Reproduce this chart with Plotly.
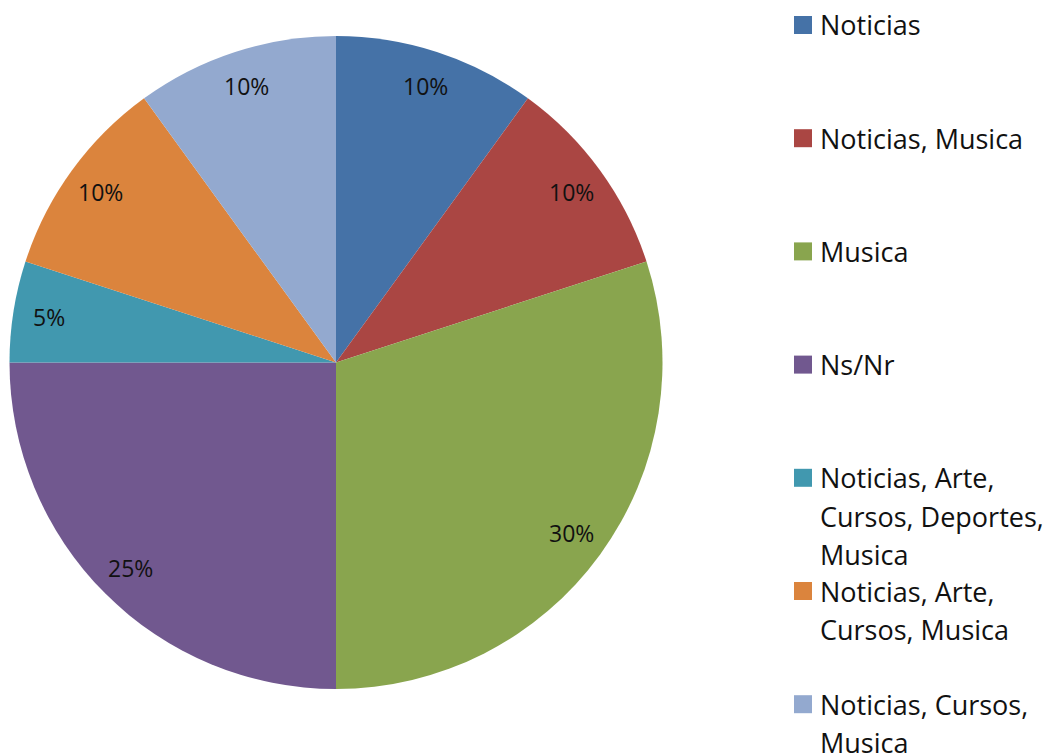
import math
import plotly.graph_objects as go

# Survey categories and their shares (percent)
categories = [
    "Noticias",
    "Noticias, Musica",
    "Musica",
    "Ns/Nr",
    "Noticias, Arte, Cursos, Deportes, Musica",
    "Noticias, Arte, Cursos, Musica",
    "Noticias, Cursos, Musica",
]
values = [10, 10, 30, 25, 5, 10, 10]

# Legend text, wrapped the way it is shown
legend_lines = [
    ["Noticias"],
    ["Noticias, Musica"],
    ["Musica"],
    ["Ns/Nr"],
    ["Noticias, Arte,", "Cursos, Deportes,", "Musica"],
    ["Noticias, Arte,", "Cursos, Musica"],
    ["Noticias, Cursos,", "Musica"],
]

colors = ["#4572A7", "#AA4643", "#89A54E", "#71588F", "#4198AF", "#DB843D", "#93A9CF"]

W, H = 1052, 756
FONT = "Open Sans"

# Pie geometry in pixels
cx, cy, r = 336, 362.5, 326.5

fig = go.Figure(
    go.Pie(
        labels=categories,
        values=values,
        sort=False,
        direction="clockwise",
        rotation=0,
        textinfo="none",
        hoverinfo="label+percent",
        marker=dict(colors=colors, line=dict(width=0)),
        domain=dict(x=[(cx - r) / W, (cx + r) / W], y=[(H - cy - r) / H, (H - cy + r) / H]),
        showlegend=False,
    )
)

annotations = []
shapes = []

# Percentage labels placed at the middle angle of each slice
total = sum(values)
cum = 0
for v in values:
    mid = (cum + v / 2) / total * 2 * math.pi
    cum += v
    rr = 0.89 * r
    px = cx + rr * math.sin(mid)
    py = cy - rr * math.cos(mid)
    annotations.append(
        dict(
            x=px / W, y=1 - py / H, xref="paper", yref="paper",
            text=f"{round(v / total * 100)}%", showarrow=False,
            font=dict(family=FONT, size=23, color="#111111"),
            xanchor="center", yanchor="middle",
        )
    )

# Hand-built legend: coloured squares with wrapped labels
item_y0, item_step, line_step = 25, 113.2, 38.2
sq = 18
sq_x = 794
text_x = 818
for i, (lines, col) in enumerate(zip(legend_lines, colors)):
    y_first = item_y0 + i * item_step
    shapes.append(
        dict(
            type="rect", xref="paper", yref="paper",
            x0=sq_x / W, x1=(sq_x + sq) / W,
            y0=1 - (y_first + sq / 2) / H, y1=1 - (y_first - sq / 2) / H,
            fillcolor=col, line=dict(width=0),
        )
    )
    for j, line in enumerate(lines):
        ly = y_first + j * line_step
        annotations.append(
            dict(
                x=text_x / W, y=1 - ly / H, xref="paper", yref="paper",
                text=line, showarrow=False,
                font=dict(family=FONT, size=27, color="#111111"),
                xanchor="left", yanchor="middle",
            )
        )

fig.update_layout(
    width=W, height=H,
    margin=dict(l=0, r=0, t=0, b=0),
    paper_bgcolor="white", plot_bgcolor="white",
    annotations=annotations, shapes=shapes,
)

fig.write_html("out.html")
